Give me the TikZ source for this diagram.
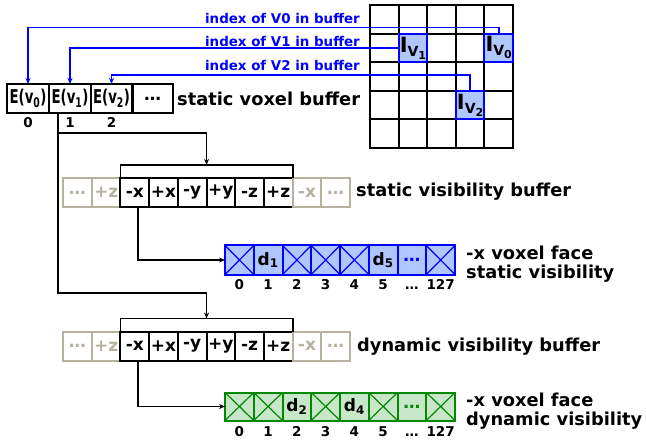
\documentclass[tikz,border=0pt]{standalone}
\usepackage{fontspec}
\setmainfont{DejaVu Sans}
\usepackage{graphicx}
\usetikzlibrary{calc,positioning,arrows.meta}

\definecolor{lblue}{RGB}{176,198,255}
\definecolor{lgreen}{RGB}{200,230,200}
\definecolor{dgreen}{RGB}{0,136,0}
\definecolor{greyb}{RGB}{183,177,162}

\newcommand{\ivox}[1]{{\fontsize{21}{21}\selectfont I}\raisebox{-4pt}{\fontsize{14}{14}\selectfont V\raisebox{-3pt}{\fontsize{11}{11}\selectfont #1}}}
\newcommand{\evox}[1]{\scalebox{0.7}[1]{\fontsize{19}{20}\selectfont E(v\textsubscript{#1})}}

\tikzset{
    box/.style={draw,line width=2pt,inner sep=0pt,outer sep=0pt,minimum height=29,font=\fontsize{17}{19}\selectfont\bfseries},
    vbox/.style={box,minimum width=28.7},
    gbox/.style={vbox,draw=greyb,text=greyb},
    sbit/.style={vbox,minimum width=28.75,minimum height=29,draw=blue,fill=lblue},
    dbit/.style={vbox,minimum width=28.75,minimum height=28,draw=dgreen,fill=lgreen},
    tex/.style={box,minimum width=28.6,minimum height=28.6,draw=blue,fill=lblue},
    gline/.style={line width=2pt,line cap=rect},
    xline/.style={line width=1.2pt},
    bar/.style={line width=1.8pt},
    conn/.style={bar,-{Stealth[length=6pt,width=5pt]}},
    link/.style={blue,line width=1.8pt,-{Stealth[length=6pt,width=5pt]}},
    lbl/.style={inner sep=0pt,font=\fontsize{17.8}{19}\selectfont\bfseries},
    idx/.style={inner sep=0pt,blue,font=\fontsize{13.4}{15}\selectfont\bfseries},
    num/.style={inner sep=0pt,font=\fontsize{13.5}{15}\selectfont\bfseries}
}

\begin{document}
\begin{tikzpicture}[x=1pt,y=-1pt]
    \useasboundingbox (0,0) rectangle (646,441);
    % texture grid
    \foreach \k in {0,...,5}{
        \draw[gline] (370+28.6*\k,5) -- (370+28.6*\k,148);
        \draw[gline] (370,5+28.6*\k) -- (513,5+28.6*\k);
    }
    \node[tex] (iv1) at (412.9,47.9) {\ivox{1}};
    \node[tex] (iv0) at (498.7,47.9) {\ivox{0}};
    \node[tex] (iv2) at (470.1,105.1) {\ivox{2}};

    % static voxel buffer
    \foreach \n/\x in {0/28,1/70,2/111.5}{
        \node[box,minimum width=42] (e\n) at (\x,98.5) {\evox{\n}};
        \node[num,anchor=base] (ei\n) at (e\n.center |- 0,128) {\n};
    }
    \node[box,minimum width=41] (edots) at (152.5,98.5) {\ldots};
    \node[lbl,anchor=base west] (svb) at (177,106) {static voxel buffer};

    \node[idx,anchor=base east] (ix0) at (360,24) {index of V0 in buffer};
    \node[idx,anchor=base east] (ix1) at (360,47) {index of V1 in buffer};
    \node[idx,anchor=base east] (ix2) at (360,71) {index of V2 in buffer};
    \draw[link] (iv0.north) -- ++(0,-6) -| (e0.north);
    \draw[link] (iv1.west) -| (e1.north);
    \draw[link] (iv2.north) -- ++(0,-16) -| (e2.north);

    % visibility buffers
    \foreach \t/\st [count=\i from 0] in {\ldots/gbox,+z/gbox,-x/vbox,+x/vbox,-y/vbox,+y/vbox,-z/vbox,+z/vbox,-x/gbox,\ldots/gbox}{
        \node[\st] (sv\i) at (77.4+28.7*\i,192.5) {\t};
        \node[\st] (dv\i) at (77.4+28.7*\i,346) {\t};
    }
    \node[lbl,anchor=base west] (svis) at (356,197) {static visibility buffer};
    \node[lbl,anchor=base west] (dvis) at (357,351) {dynamic visibility buffer};

    \coordinate (tap) at ($(e1.south west)+(9,0)$);
    \coordinate (sbm) at ($(sv2.north west)!0.5!(sv7.north east)+(0,-13)$);
    \coordinate (dbm) at ($(dv2.north west)!0.5!(dv7.north east)+(0,-13)$);
    \draw[bar] (sv2.north west) -- ++(0,-13) -| (sv7.north east);
    \draw[bar] (dv2.north west) -- ++(0,-13) -| (dv7.north east);
    \draw[conn] (tap) -- (tap |- 0,293) -| (dbm);
    \draw[conn] (tap |- 0,133) -| (sbm);

    % -x face bits
    \foreach \t [count=\i from 0] in {{},d\textsubscript{1},{},{},{},d\textsubscript{5},{\color{blue}\ldots},{}}
        \node[sbit] (sb\i) at (239.4+28.75*\i,260) {\t};
    \foreach \t [count=\i from 0] in {{},{},d\textsubscript{2},{},d\textsubscript{4},{},{\color{dgreen}\ldots},{}}
        \node[dbit] (db\i) at (239.4+28.75*\i,406.5) {\t};
    \foreach \i in {0,2,3,4,7}
        \draw[xline,blue] (sb\i.north west) -- (sb\i.south east) (sb\i.north east) -- (sb\i.south west);
    \foreach \i in {0,1,3,5,7}
        \draw[xline,dgreen] (db\i.north west) -- (db\i.south east) (db\i.north east) -- (db\i.south west);
    \foreach \t [count=\i from 0] in {0,1,2,3,4,5,\ldots,127}{
        \node[num,anchor=base] (sn\i) at (sb\i.center |- 0,289) {\t};
        \node[num,anchor=base] (dn\i) at (db\i.center |- 0,436) {\t};
    }
    \draw[conn] ($(sv2.south)+(3,0)$) |- (sb0.west);
    \draw[conn] ($(dv2.south)+(3,0)$) |- (db0.west);

    \node[lbl,align=left,anchor=west] (sface) at (466,264) {-x voxel face\\static visibility};
    \node[lbl,align=left,anchor=west] (dface) at (466,411) {-x voxel face\\dynamic visibility};
\end{tikzpicture}
\end{document}
